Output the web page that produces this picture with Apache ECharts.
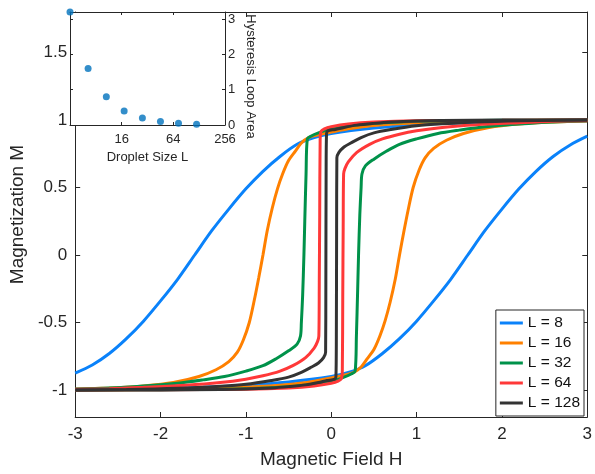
<!DOCTYPE html>
<html><head><meta charset="utf-8">
<script src="https://cdn.jsdelivr.net/npm/echarts@6/dist/echarts.min.js"></script>
<style>html,body{margin:0;padding:0;background:#fff}#c{width:595px;height:474px}</style>
</head><body><div id="c"></div>
<script>
// ---------- data ----------
const SERIES_NAMES = ['L = 8', 'L = 16', 'L = 32', 'L = 64', 'L = 128'];
const COLORS = ['#0A82FA', '#FF8000', '#00924A', '#FF3838', '#333333'];

// L = 8
const H_down_8 = [3, 2.5, 2, 1.5, 1, 0.5, 0, -0.2, -0.4, -0.6, -0.8, -1.0, -1.2, -1.4, -1.6, -1.8, -2.0, -2.2, -2.4, -2.6, -2.8, -3];
const M_down_8 = [1.0, 0.995, 0.99, 0.98, 0.965, 0.94, 0.9, 0.87, 0.82, 0.73, 0.62, 0.49, 0.34, 0.18, 0.0, -0.18, -0.34, -0.49, -0.62, -0.73, -0.815, -0.875];
const H_up_8 = [-3, -2.5, -2, -1.5, -1, -0.5, 0, 0.2, 0.4, 0.6, 0.8, 1.0, 1.2, 1.4, 1.6, 1.8, 2.0, 2.2, 2.4, 2.6, 2.8, 3];
const M_up_8 = [-1.0, -0.995, -0.99, -0.98, -0.965, -0.94, -0.9, -0.87, -0.82, -0.73, -0.62, -0.49, -0.34, -0.18, 0.0, 0.18, 0.34, 0.49, 0.62, 0.73, 0.815, 0.88];

// L = 16
const H_down_16 = [3, 2, 1.5, 1, 0.5, 0.2, 0, -0.15, -0.265, -0.35, -0.42, -0.5, -0.57, -0.63, -0.69, -0.75, -0.8, -0.85, -0.9, -0.96, -1.03, -1.1, -1.2, -1.35, -1.55, -1.85, -2.2, -2.6, -3];
const M_down_16 = [1.0, 0.995, 0.99, 0.98, 0.96, 0.935, 0.91, 0.89, 0.87, 0.83, 0.77, 0.7, 0.6, 0.49, 0.35, 0.18, 0.0, -0.17, -0.33, -0.5, -0.63, -0.72, -0.79, -0.85, -0.9, -0.945, -0.97, -0.985, -0.995];
const H_up_16 = [-3, -2, -1.5, -1, -0.5, -0.2, 0, 0.15, 0.265, 0.35, 0.42, 0.5, 0.57, 0.63, 0.69, 0.75, 0.8, 0.85, 0.9, 0.96, 1.03, 1.1, 1.2, 1.35, 1.55, 1.85, 2.2, 2.6, 3];
const M_up_16 = [-1.0, -0.995, -0.99, -0.98, -0.96, -0.935, -0.91, -0.89, -0.87, -0.83, -0.77, -0.7, -0.6, -0.49, -0.35, -0.18, 0.0, 0.17, 0.33, 0.5, 0.63, 0.72, 0.79, 0.85, 0.9, 0.945, 0.97, 0.985, 0.995];

// L = 32
const H_down_32 = [3, 2, 1.5, 1, 0.5, 0.2, 0, -0.15, -0.24, -0.28, -0.295, -0.31, -0.32, -0.335, -0.35, -0.36, -0.4, -0.5, -0.65, -0.8, -1.0, -1.25, -1.5, -1.8, -2.2, -2.6, -3];
const M_down_32 = [1.0, 0.998, 0.995, 0.99, 0.975, 0.955, 0.935, 0.905, 0.88, 0.86, 0.6, 0.25, 0.0, -0.3, -0.5, -0.6, -0.66, -0.71, -0.77, -0.82, -0.86, -0.9, -0.925, -0.95, -0.97, -0.985, -0.993];
const H_up_32 = [-3, -2, -1.5, -1, -0.5, -0.2, 0, 0.15, 0.24, 0.28, 0.295, 0.31, 0.32, 0.335, 0.35, 0.36, 0.4, 0.5, 0.65, 0.8, 1.0, 1.25, 1.5, 1.8, 2.2, 2.6, 3];
const M_up_32 = [-1.0, -0.998, -0.995, -0.99, -0.975, -0.955, -0.935, -0.905, -0.88, -0.86, -0.6, -0.25, 0.0, 0.3, 0.5, 0.6, 0.66, 0.71, 0.77, 0.82, 0.86, 0.9, 0.925, 0.95, 0.97, 0.985, 0.993];

// L = 64
const H_down_64 = [3, 2, 1, 0.5, 0.2, 0, -0.08, -0.12, -0.13, -0.135, -0.14, -0.145, -0.16, -0.2, -0.3, -0.45, -0.6, -0.8, -1.0, -1.3, -1.7, -2.2, -2.6, -3];
const M_down_64 = [1.0, 0.998, 0.995, 0.985, 0.97, 0.95, 0.935, 0.915, 0.85, 0.3, -0.2, -0.6, -0.64, -0.69, -0.76, -0.82, -0.86, -0.895, -0.92, -0.945, -0.965, -0.98, -0.99, -0.995];
const H_up_64 = [-3, -2, -1, -0.5, -0.2, 0, 0.08, 0.12, 0.13, 0.135, 0.14, 0.145, 0.16, 0.2, 0.3, 0.45, 0.6, 0.8, 1.0, 1.3, 1.7, 2.2, 2.6, 3];
const M_up_64 = [-1.0, -0.998, -0.995, -0.985, -0.97, -0.95, -0.935, -0.915, -0.85, -0.3, 0.2, 0.6, 0.64, 0.69, 0.76, 0.82, 0.86, 0.895, 0.92, 0.945, 0.965, 0.98, 0.99, 0.995];

// L = 128
const H_down_128 = [3, 2, 1.3, 1, 0.7, 0.5, 0.3, 0.15, 0.05, -0.04, -0.055, -0.06, -0.063, -0.066, -0.09, -0.15, -0.23, -0.35, -0.5, -0.7, -1.0, -1.3, -1.8, -2.4, -3];
const M_down_128 = [1.0, 1.0, 0.996, 0.993, 0.985, 0.975, 0.962, 0.945, 0.93, 0.92, 0.9, 0.6, -0.2, -0.72, -0.76, -0.8, -0.83, -0.87, -0.905, -0.93, -0.958, -0.972, -0.987, -0.996, -1.0];
const H_up_128 = [-3, -2, -1.3, -1, -0.7, -0.5, -0.3, -0.15, -0.05, 0.04, 0.055, 0.06, 0.063, 0.066, 0.09, 0.15, 0.23, 0.35, 0.5, 0.7, 1.0, 1.3, 1.8, 2.4, 3];
const M_up_128 = [-1.0, -1.0, -0.996, -0.993, -0.985, -0.975, -0.962, -0.945, -0.93, -0.92, -0.9, -0.6, 0.2, 0.72, 0.76, 0.8, 0.83, 0.87, 0.905, 0.93, 0.958, 0.972, 0.987, 0.996, 1.0];

// inset
const L_sizes = [4, 6.5, 10.6, 17.1, 27.9, 45.3, 73.5, 119.4];
const loop_area = [3.2, 1.6, 0.8, 0.4, 0.2, 0.1, 0.05, 0.02];

// tick labels
const X_TICKS = [-3, -2, -1, 0, 1, 2, 3];
const Y_TICKS = [-1, -0.5, 0, 0.5, 1, 1.5];
const INSET_Y_TICKS = [0, 1, 2, 3];

// ---------- chart ----------
const FONT = 'Liberation Sans, Arial, sans-serif';
const AX = '#262626';
const branches = [
  [H_down_8, M_down_8, H_up_8, M_up_8],
  [H_down_16, M_down_16, H_up_16, M_up_16],
  [H_down_32, M_down_32, H_up_32, M_up_32],
  [H_down_64, M_down_64, H_up_64, M_up_64],
  [H_down_128, M_down_128, H_up_128, M_up_128]
];
const pairs = (xs, ys) => xs.map((x, i) => [x, ys[i]]);
const series = [];
branches.forEach((b, k) => {
  [[b[0], b[1]], [b[2], b[3]]].forEach(([hs, ms]) => {
    series.push({
      name: SERIES_NAMES[k], type: 'line', xAxisIndex: 0, yAxisIndex: 0,
      data: pairs(hs, ms), showSymbol: false, symbol: 'none',
      smooth: 0.3,
      lineStyle: { width: 3, color: COLORS[k] }, itemStyle: { color: COLORS[k] },
      z: 2 + k
    });
  });
});
series.push({
  type: 'scatter', xAxisIndex: 2, yAxisIndex: 2, data: pairs(L_sizes, loop_area),
  symbol: 'circle', symbolSize: 7, itemStyle: { color: '#0072BD' }, clip: false, z: 12
});

const tickStyle = { color: AX, width: 1 };
const lineAx = { show: true, onZero: false, lineStyle: { color: AX, width: 1 } };
const labelStyle = (fs, m) => ({ color: AX, fontSize: fs, fontFamily: FONT, margin: m });

const option = {
  animation: false,
  backgroundColor: '#fff',
  grid: [
    { left: 70, right: 6, top: 12, bottom: 52, containLabel: false },
    { left: 70, top: 12, width: 155, height: 113, show: true, backgroundColor: '#fff', borderWidth: 0, z: 10 }
  ],
  legend: {
    data: SERIES_NAMES, orient: 'vertical', right: 11, top: 310,
    itemWidth: 23, itemHeight: 3, itemGap: 4, icon: 'rect',
    padding: [5, 4, 5, 4], borderColor: AX, borderWidth: 1, borderRadius: 0,
    backgroundColor: '#fff',
    textStyle: { fontSize: 15.5, fontFamily: FONT, color: '#111', lineHeight: 16 },
    z: 20
  },
  xAxis: [
    { gridIndex: 0, type: 'value', min: -3, max: 3, interval: 1, position: 'bottom',
      axisLine: lineAx, axisTick: { inside: true, length: 5, lineStyle: tickStyle, customValues: X_TICKS },
      axisLabel: Object.assign(labelStyle(17, 9), { customValues: X_TICKS }), splitLine: { show: false },
      name: 'Magnetic Field H', nameLocation: 'middle', nameGap: 33,
      nameTextStyle: { color: AX, fontSize: 19, fontFamily: FONT } },
    { gridIndex: 0, type: 'value', min: -3, max: 3, interval: 1, position: 'top',
      axisLine: lineAx, axisTick: { inside: true, length: 5, lineStyle: tickStyle, customValues: X_TICKS },
      axisLabel: { show: false }, splitLine: { show: false } },
    { gridIndex: 1, type: 'log', logBase: 4, min: 4, max: 256, position: 'bottom', z: 11,
      axisLine: lineAx, axisTick: { inside: true, length: 3, lineStyle: tickStyle },
      minorTick: { show: false }, axisLabel: Object.assign(labelStyle(13, 8), { showMinLabel: false }),
      splitLine: { show: false },
      name: 'Droplet Size L', nameLocation: 'middle', nameGap: 26,
      nameTextStyle: { color: AX, fontSize: 13, fontFamily: FONT } },
    { gridIndex: 1, type: 'log', logBase: 4, min: 4, max: 256, position: 'top', z: 11,
      axisLine: lineAx, axisTick: { inside: true, length: 3, lineStyle: tickStyle },
      minorTick: { show: false }, axisLabel: { show: false }, splitLine: { show: false } }
  ],
  yAxis: [
    { gridIndex: 0, type: 'value', min: -1.2, max: 1.8, position: 'left',
      axisLine: lineAx, axisTick: { inside: true, length: 5, lineStyle: tickStyle, customValues: Y_TICKS },
      axisLabel: Object.assign(labelStyle(17, 8), { customValues: Y_TICKS }), splitLine: { show: false },
      name: 'Magnetization M', nameLocation: 'middle', nameGap: 39,
      nameTextStyle: { color: AX, fontSize: 19, fontFamily: FONT } },
    { gridIndex: 0, type: 'value', min: -1.2, max: 1.8, position: 'right',
      axisLine: lineAx, axisTick: { inside: true, length: 5, lineStyle: tickStyle, customValues: Y_TICKS },
      axisLabel: { show: false }, splitLine: { show: false } },
    { gridIndex: 1, type: 'value', min: 0, max: 3.2, position: 'right', z: 11,
      axisLine: lineAx, axisTick: { inside: true, length: 3, lineStyle: tickStyle, customValues: INSET_Y_TICKS },
      axisLabel: Object.assign(labelStyle(13, 3), { customValues: INSET_Y_TICKS }), splitLine: { show: false },
      name: 'Hysteresis Loop Area', nameLocation: 'middle', nameGap: 19, nameRotate: -90,
      nameTextStyle: { color: AX, fontSize: 13, fontFamily: FONT, padding: [0, 0, 0, 16] } },
    { gridIndex: 1, type: 'value', min: 0, max: 3.2, position: 'left', z: 11,
      axisLine: lineAx, axisTick: { inside: true, length: 3, lineStyle: tickStyle, customValues: INSET_Y_TICKS },
      axisLabel: { show: false }, splitLine: { show: false } }
  ],
  series: series
};
const chart = echarts.init(document.getElementById('c'), null, { renderer: 'canvas' });
chart.setOption(option);
</script></body></html>
